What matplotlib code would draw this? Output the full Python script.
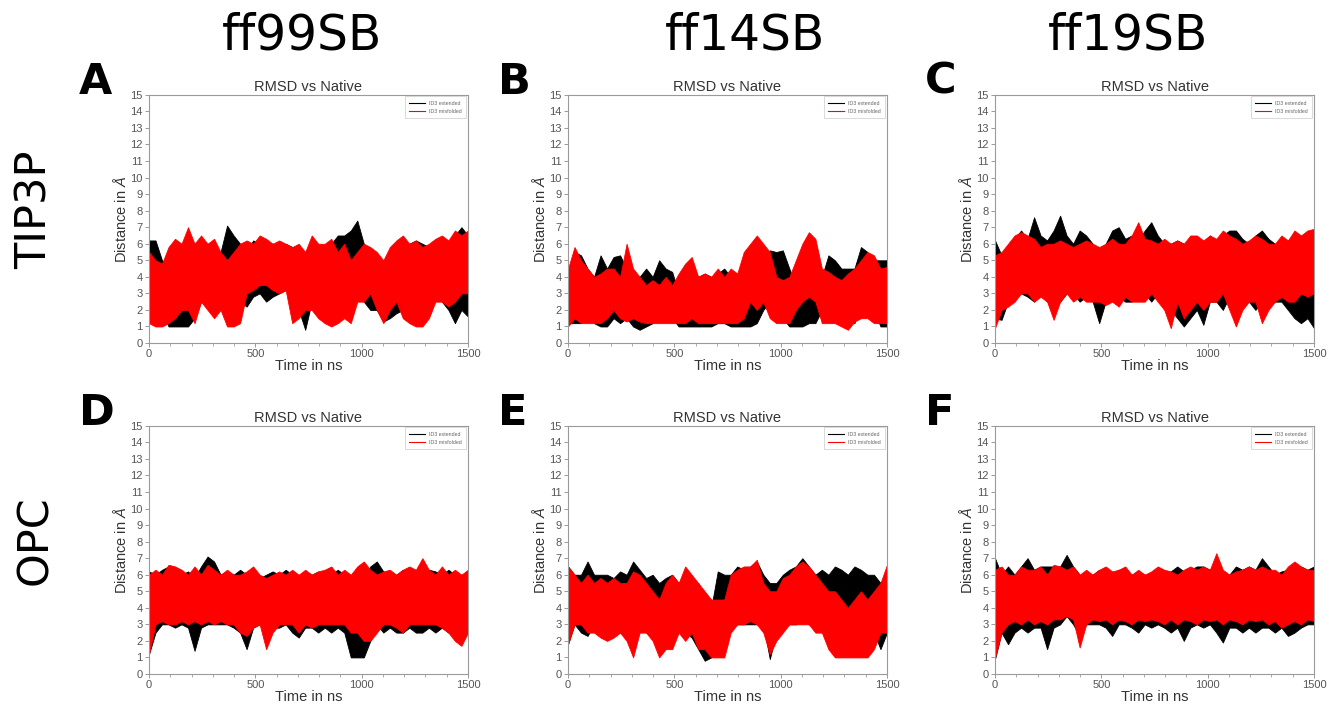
import matplotlib
matplotlib.use("Agg")
import matplotlib.pyplot as plt
import matplotlib.ticker as ticker
import numpy as np

plt.rcParams['font.family'] = ['Liberation Sans', 'DejaVu Sans']
plt.rcParams['mathtext.fontset'] = 'custom'
plt.rcParams['mathtext.it'] = 'Liberation Sans:italic'
plt.rcParams['mathtext.rm'] = 'Liberation Sans'

# Time axis, in ns
T_END = 1500

force_fields = ["ff99SB", "ff14SB", "ff19SB"]
water_models = ["TIP3P", "OPC"]
panel_letters = ["A", "B", "C", "D", "E", "F"]
series_labels = ["ID3 extended", "ID3 misfolded"]

# RMSD envelope: low / high value in each 30 ns window
a_ext_lo = [2.0, 2.5, 2.0, 1.0, 1.0, 1.0, 1.0, 1.5, 2.5, 3.0, 2.5, 3.0, 3.5, 3.0, 2.5, 2.2, 2.8, 3.0, 2.5, 2.8,
            3.0, 3.2, 3.0, 2.0, 0.8, 2.5, 2.5, 2.0, 2.5, 3.0, 3.0, 3.0, 3.5, 2.5, 2.0, 2.0, 1.3, 1.5, 1.8, 2.0,
            3.0, 3.2, 3.5, 3.0, 3.2, 2.5, 2.0, 1.2, 2.0, 1.6]
a_ext_hi = [6.2, 6.2, 5.0, 4.5, 3.5, 3.5, 3.2, 4.5, 5.5, 6.0, 5.5, 5.5, 7.1, 6.5, 6.0, 5.5, 6.2, 6.0, 5.8, 6.0,
            5.8, 6.0, 5.8, 5.5, 5.5, 6.0, 5.5, 5.5, 6.0, 6.5, 6.5, 6.8, 7.4, 6.0, 5.5, 5.0, 4.5, 4.0, 4.5, 5.5,
            6.0, 6.2, 6.0, 5.8, 6.0, 5.5, 5.5, 6.5, 7.0, 6.5]
a_mis_lo = [1.2, 1.0, 1.0, 1.2, 1.5, 2.0, 2.0, 1.2, 2.5, 2.0, 1.5, 2.0, 1.0, 1.0, 1.2, 3.0, 3.2, 3.5, 3.5, 3.2,
            3.0, 3.2, 1.2, 1.5, 2.0, 2.0, 1.5, 1.2, 1.0, 1.2, 1.5, 1.2, 2.5, 2.5, 3.0, 2.0, 1.2, 2.0, 2.5, 1.5,
            1.2, 1.0, 1.0, 1.5, 2.5, 2.5, 2.2, 2.5, 3.0, 3.0]
a_mis_hi = [5.5, 5.0, 4.8, 5.8, 6.3, 6.0, 7.0, 6.0, 6.5, 6.0, 6.3, 5.5, 5.0, 5.5, 6.0, 6.2, 6.0, 6.5, 6.3, 6.0,
            6.2, 6.0, 5.8, 6.0, 5.5, 6.5, 6.0, 6.0, 6.3, 5.5, 6.0, 5.0, 5.5, 6.0, 5.8, 5.5, 5.0, 5.8, 6.2, 6.5,
            6.0, 6.2, 5.8, 6.0, 6.3, 6.5, 6.2, 6.8, 6.5, 6.8]

b_ext_lo = [1.2, 1.2, 1.2, 1.5, 1.2, 1.0, 1.0, 1.5, 1.2, 1.5, 1.0, 0.8, 1.0, 1.2, 1.5, 1.5, 1.5, 1.0, 1.0, 1.0,
            1.0, 1.0, 1.0, 1.2, 1.2, 1.0, 1.0, 1.0, 1.0, 1.2, 2.0, 2.5, 2.0, 1.5, 1.0, 1.0, 1.0, 1.2, 1.2, 2.0,
            2.0, 2.5, 1.5, 1.2, 1.2, 2.5, 2.5, 2.0, 1.0, 1.0]
b_ext_hi = [3.5, 5.5, 5.3, 4.5, 4.0, 5.3, 4.5, 5.2, 5.3, 4.5, 3.0, 4.0, 4.5, 4.0, 5.0, 4.5, 4.3, 3.0, 3.5, 4.5,
            4.0, 4.2, 4.0, 4.2, 4.5, 4.0, 3.0, 3.5, 3.5, 3.5, 4.5, 5.6, 5.5, 5.6, 4.5, 3.5, 3.5, 3.2, 3.0, 4.0,
            5.3, 5.0, 4.5, 4.5, 4.5, 5.8, 5.5, 5.0, 5.0, 5.0]
b_mis_lo = [1.0, 1.5, 1.2, 1.2, 1.2, 1.2, 1.5, 2.0, 1.5, 1.3, 1.5, 1.3, 1.2, 1.2, 1.2, 1.2, 1.2, 1.2, 1.2, 1.5,
            1.2, 1.2, 1.2, 1.2, 1.2, 1.2, 1.2, 1.5, 2.5, 2.0, 2.5, 1.5, 1.2, 1.2, 1.2, 2.0, 2.5, 2.8, 2.5, 1.2,
            1.2, 1.2, 1.0, 0.8, 1.3, 1.5, 1.5, 1.2, 1.2, 1.2]
b_mis_hi = [4.5, 5.8, 5.0, 4.5, 4.0, 4.2, 4.5, 4.5, 4.0, 6.0, 4.5, 4.0, 3.5, 3.8, 3.5, 4.0, 3.5, 4.2, 4.8, 5.2,
            4.0, 4.2, 4.0, 4.5, 4.0, 4.5, 4.2, 5.5, 6.0, 6.5, 6.0, 5.5, 4.0, 3.8, 4.0, 5.0, 6.0, 6.7, 6.3, 4.5,
            4.3, 4.0, 3.8, 4.2, 4.5, 5.0, 5.5, 5.3, 4.5, 4.6]

c_ext_lo = [1.5, 1.4, 2.5, 3.5, 3.0, 2.8, 2.5, 3.0, 2.5, 2.8, 2.5, 3.0, 3.0, 2.5, 2.8, 2.5, 1.2, 2.5, 3.0, 2.8,
            2.5, 2.5, 3.0, 3.0, 2.5, 3.0, 2.5, 2.0, 1.5, 1.0, 1.5, 2.0, 1.1, 2.5, 2.5, 2.0, 2.8, 2.5, 2.5, 2.5,
            2.0, 2.5, 2.5, 2.5, 2.5, 2.0, 1.5, 1.2, 1.5, 0.9]
c_ext_hi = [6.2, 5.3, 5.0, 6.3, 6.8, 6.3, 7.6, 6.5, 6.2, 6.8, 7.7, 6.5, 6.0, 6.8, 6.5, 6.0, 5.5, 6.0, 6.8, 7.0,
            6.3, 6.5, 6.2, 6.8, 7.3, 6.5, 6.0, 6.0, 6.2, 6.0, 6.0, 6.3, 6.0, 6.5, 6.0, 6.5, 6.8, 6.8, 6.3, 6.0,
            6.5, 6.8, 6.3, 6.0, 6.0, 5.8, 5.5, 6.0, 5.0, 4.5]
c_mis_lo = [0.9, 2.0, 2.2, 2.5, 3.0, 3.0, 2.5, 2.8, 2.5, 1.4, 2.5, 3.0, 2.5, 2.8, 2.5, 2.5, 2.5, 2.3, 2.5, 2.2,
            2.8, 2.5, 2.5, 2.5, 3.0, 2.5, 2.0, 0.9, 2.5, 1.5, 2.0, 2.5, 2.0, 2.5, 2.5, 3.0, 2.0, 1.0, 2.0, 2.5,
            2.5, 1.2, 2.0, 2.5, 2.8, 2.5, 2.5, 3.0, 2.8, 3.0]
c_mis_hi = [5.3, 5.5, 6.0, 6.5, 6.7, 6.5, 6.3, 5.8, 6.0, 6.0, 6.2, 6.0, 5.8, 6.0, 6.2, 6.0, 5.8, 6.0, 6.3, 6.0,
            6.0, 6.5, 7.3, 6.3, 6.2, 6.0, 6.3, 6.0, 6.2, 6.0, 6.5, 6.5, 6.2, 6.5, 6.3, 6.8, 6.5, 6.3, 6.0, 6.2,
            6.5, 6.3, 6.0, 6.0, 6.5, 6.2, 6.8, 6.5, 6.8, 6.9]

d_ext_lo = [1.2, 2.5, 3.0, 3.0, 2.8, 3.0, 2.8, 1.4, 2.8, 3.0, 3.0, 3.0, 3.0, 2.8, 2.5, 1.5, 2.8, 3.0, 2.5, 2.8,
            2.8, 3.0, 2.5, 2.2, 2.8, 2.8, 2.5, 2.8, 2.5, 2.8, 2.5, 1.0, 1.0, 1.0, 2.0, 3.0, 2.5, 2.8, 2.5, 2.5,
            2.8, 2.5, 2.5, 2.8, 2.5, 2.8, 2.5, 2.5, 2.0, 3.0]
d_ext_hi = [6.2, 6.0, 6.3, 6.5, 6.3, 6.0, 6.2, 5.8, 6.5, 7.1, 6.8, 6.0, 6.2, 6.0, 6.3, 6.0, 6.0, 5.8, 6.0, 6.2,
            6.0, 6.3, 6.0, 5.8, 6.2, 6.0, 6.2, 6.0, 6.0, 6.3, 6.0, 5.5, 5.0, 5.5, 6.5, 6.8, 6.2, 6.0, 6.0, 6.3,
            6.0, 6.2, 6.0, 6.3, 6.2, 6.0, 6.3, 6.0, 6.0, 6.0]
d_mis_lo = [1.2, 3.0, 3.2, 3.0, 3.0, 3.2, 3.0, 3.2, 3.0, 3.2, 3.0, 3.2, 3.0, 3.0, 2.5, 2.3, 2.8, 3.0, 1.5, 2.5,
            3.0, 3.0, 3.0, 2.5, 3.0, 2.8, 3.0, 3.0, 3.0, 3.0, 3.0, 2.5, 2.5, 2.0, 2.0, 2.5, 3.0, 3.0, 2.8, 2.5,
            3.0, 3.0, 3.0, 3.0, 3.0, 2.8, 2.5, 2.0, 1.7, 2.5]
d_mis_hi = [6.0, 6.3, 6.0, 6.6, 6.5, 6.3, 6.0, 6.5, 6.0, 6.6, 6.3, 6.0, 6.3, 6.0, 6.0, 6.2, 6.5, 6.0, 5.8, 6.0,
            6.2, 6.0, 6.3, 6.0, 6.3, 6.0, 6.2, 6.3, 6.5, 6.0, 6.3, 6.0, 6.5, 6.8, 6.3, 6.0, 6.2, 6.3, 6.0, 6.3,
            6.5, 6.3, 7.0, 6.3, 6.0, 6.5, 6.0, 6.3, 6.0, 6.3]

e_ext_lo = [1.8, 3.0, 2.5, 2.3, 3.0, 2.8, 2.5, 2.5, 2.5, 2.5, 3.0, 3.0, 2.5, 2.5, 2.0, 2.2, 2.5, 2.5, 2.5, 2.2,
            1.5, 0.8, 1.0, 2.5, 3.0, 3.0, 3.0, 3.0, 3.0, 3.0, 3.0, 0.9, 2.5, 3.0, 3.0, 3.0, 3.2, 3.0, 3.0, 3.2,
            3.5, 3.5, 3.5, 3.5, 3.5, 3.0, 3.0, 2.5, 1.5, 2.5]
e_ext_hi = [6.5, 6.0, 6.0, 6.8, 6.0, 6.0, 6.0, 5.8, 6.2, 6.0, 6.8, 6.3, 5.8, 6.0, 5.5, 5.8, 6.0, 5.5, 5.8, 5.5,
            5.5, 4.5, 4.0, 6.2, 6.0, 6.0, 6.5, 6.3, 6.5, 6.8, 6.0, 5.5, 5.5, 6.0, 6.3, 6.5, 7.0, 6.5, 6.0, 6.3,
            6.0, 6.5, 6.3, 6.0, 6.5, 6.3, 6.0, 6.0, 5.5, 6.0]
e_mis_lo = [1.8, 3.0, 3.0, 2.5, 2.5, 2.2, 2.0, 2.2, 2.5, 2.0, 1.0, 2.5, 2.5, 2.0, 1.0, 1.5, 1.5, 2.5, 2.0, 2.5,
            1.5, 1.5, 1.0, 1.0, 1.0, 2.5, 3.0, 3.0, 3.2, 3.0, 2.5, 1.2, 2.0, 2.5, 3.0, 3.0, 3.0, 3.0, 2.5, 2.5,
            1.5, 1.0, 1.0, 1.0, 1.0, 1.0, 1.0, 1.5, 2.5, 2.5]
e_mis_hi = [6.5, 6.0, 5.5, 6.0, 5.5, 5.8, 5.5, 5.8, 5.5, 5.5, 6.2, 6.0, 5.5, 5.0, 4.5, 5.5, 6.0, 5.5, 6.5, 6.0,
            5.5, 5.0, 4.5, 4.5, 4.5, 6.0, 6.3, 6.5, 6.5, 6.9, 5.5, 5.0, 5.0, 5.8, 6.0, 6.5, 6.8, 6.5, 6.0, 5.5,
            5.0, 5.0, 4.5, 4.0, 4.5, 5.0, 4.5, 5.0, 5.5, 6.6]

f_ext_lo = [0.9, 2.5, 1.8, 2.5, 2.8, 2.5, 2.8, 2.8, 1.5, 2.8, 3.0, 3.5, 3.0, 2.3, 3.0, 3.0, 3.0, 2.8, 2.3, 3.0,
            3.0, 2.8, 2.5, 3.0, 2.8, 3.0, 2.8, 2.5, 2.8, 2.0, 2.8, 3.0, 2.8, 3.0, 2.5, 1.9, 2.8, 2.8, 2.5, 2.8,
            2.5, 2.8, 2.8, 2.5, 2.8, 2.3, 2.5, 2.8, 3.0, 3.0]
f_ext_hi = [7.0, 6.0, 6.5, 6.0, 6.5, 7.0, 6.3, 6.5, 6.5, 6.5, 6.5, 7.2, 6.5, 6.0, 5.8, 6.0, 6.3, 6.0, 6.0, 6.3,
            6.3, 6.0, 6.2, 6.0, 6.0, 6.2, 6.0, 6.2, 6.5, 6.2, 6.3, 6.5, 6.5, 6.3, 6.5, 6.2, 6.0, 6.5, 6.3, 6.5,
            6.3, 7.0, 6.5, 6.0, 6.2, 6.3, 6.0, 6.5, 6.3, 6.5]
f_mis_lo = [1.0, 2.5, 3.0, 3.2, 3.0, 3.3, 3.0, 3.2, 3.0, 3.3, 3.3, 3.5, 3.3, 1.6, 3.0, 3.3, 3.2, 3.3, 3.0, 3.3,
            3.2, 3.0, 3.3, 3.2, 3.3, 3.2, 3.0, 3.3, 3.0, 3.3, 3.2, 3.0, 3.3, 3.2, 3.3, 3.0, 3.3, 3.2, 3.0, 3.3,
            3.2, 3.3, 3.0, 3.2, 2.8, 3.0, 3.2, 3.0, 3.3, 3.2]
f_mis_hi = [6.3, 6.5, 6.0, 6.0, 6.5, 6.3, 6.3, 6.5, 6.0, 6.6, 6.5, 6.3, 6.5, 6.0, 6.3, 6.0, 6.3, 6.5, 6.2, 6.3,
            6.5, 6.0, 6.3, 6.0, 6.2, 6.5, 6.3, 6.2, 6.0, 6.3, 6.5, 6.3, 6.5, 6.3, 7.3, 6.3, 6.0, 6.2, 6.3, 6.5,
            6.3, 6.5, 6.3, 6.3, 6.0, 6.5, 6.8, 6.5, 6.3, 6.3]

panels = [
    (a_ext_lo, a_ext_hi, a_mis_lo, a_mis_hi),
    (b_ext_lo, b_ext_hi, b_mis_lo, b_mis_hi),
    (c_ext_lo, c_ext_hi, c_mis_lo, c_mis_hi),
    (d_ext_lo, d_ext_hi, d_mis_lo, d_mis_hi),
    (e_ext_lo, e_ext_hi, e_mis_lo, e_mis_hi),
    (f_ext_lo, f_ext_hi, f_mis_lo, f_mis_hi),
]


def draw_trace(ax, lo, hi, color, label):
    # the trajectory is so dense it reads as a band between its lows and highs
    t = np.linspace(0, T_END, len(lo))
    ax.fill_between(t, lo, hi, color=color, lw=0.6, edgecolor=color)
    ax.plot([], [], color=color, lw=0.8, label=label)


fig = plt.figure(figsize=(13.29, 7.09), dpi=100)

lefts = [0.1121, 0.4274, 0.7487]
bottoms = [0.5162, 0.0494]
W, H = 0.240, 0.350

GRAY = '#8a8a8a'
for i, (ext_lo, ext_hi, mis_lo, mis_hi) in enumerate(panels):
    row, col = divmod(i, 3)
    ax = fig.add_axes([lefts[col], bottoms[row], W, H])

    draw_trace(ax, ext_lo, ext_hi, 'black', series_labels[0])
    draw_trace(ax, mis_lo, mis_hi, '#ff0000', series_labels[1])

    ax.set_xlim(0, T_END)
    ax.set_ylim(0, 15)
    ax.yaxis.set_major_locator(ticker.MultipleLocator(1))
    ax.xaxis.set_major_locator(ticker.MultipleLocator(500))
    ax.xaxis.set_minor_locator(ticker.MultipleLocator(100))
    ax.tick_params(which='both', direction='out', colors=GRAY, labelcolor='#555555', labelsize=8)
    ax.tick_params(which='major', length=3, width=0.6, pad=1.5)
    ax.tick_params(which='minor', length=2, width=0.5)
    for s in ax.spines.values():
        s.set_color('#9a9a9a')
        s.set_linewidth(0.8)

    ax.set_title('RMSD vs Native', fontsize=10.5, color='#333333', pad=3)
    ax.set_xlabel('Time in ns', fontsize=10.5, color='#333333', labelpad=0)
    ax.set_ylabel(r'Distance in $\mathit{Å}$', fontsize=10.5, color='#333333', labelpad=1)

    leg = ax.legend(loc='upper right', fontsize=3.8, frameon=True, fancybox=False,
                    handlelength=3, borderpad=0.8, labelspacing=0.6, borderaxespad=0.3)
    leg.get_frame().set_edgecolor('#c8c8c8')
    leg.get_frame().set_linewidth(0.6)
    for txt in leg.get_texts():
        txt.set_color('#666666')

    # panel letter
    fig.text(lefts[col] - 0.053, bottoms[row] + H + 0.0185, panel_letters[i], fontsize=31,
             fontweight='heavy', family='DejaVu Sans', ha='left', va='center')

col_centers = [302 / 1329, 745 / 1329, 1128 / 1329]
for name, xc in zip(force_fields, col_centers):
    fig.text(xc, 1 - 36 / 709, name, fontsize=35, family='DejaVu Sans', ha='center', va='center')

row_centers = [1 - 210 / 709, 1 - 540 / 709]
for name, yc in zip(water_models, row_centers):
    fig.text(35 / 1329, yc, name, fontsize=31, family='DejaVu Sans', rotation=90,
             ha='center', va='center')

fig.savefig('out.png', dpi=100, facecolor='white')
